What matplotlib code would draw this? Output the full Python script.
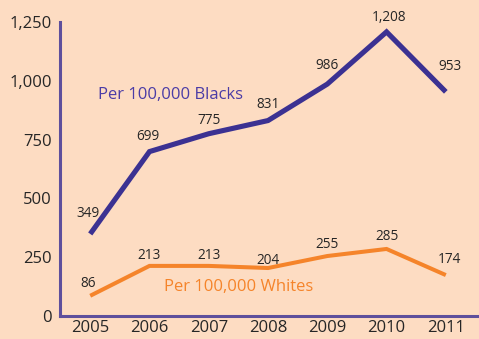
import matplotlib
matplotlib.use("Agg")
import matplotlib.pyplot as plt

years = [2005, 2006, 2007, 2008, 2009, 2010, 2011]
blacks = [349, 699, 775, 831, 986, 1208, 953]
whites = [86, 213, 213, 204, 255, 285, 174]
y_ticks = [0, 250, 500, 750, 1000, 1250]
y_tick_labels = ["0", "250", "500", "750", "1,000", "1,250"]

bg = "#FDDCC2"
blue = "#3B3192"
orange = "#F5842A"
axis_col = "#5E4F9C"
text_col = "#262626"

plt.rcParams["font.family"] = ["Open Sans", "DejaVu Sans"]

fig = plt.figure(figsize=(4.79, 3.39), dpi=100, facecolor=bg)
ax = fig.add_axes([60 / 479, 1 - 316 / 339, 419 / 479, 294 / 339])
ax.set_facecolor(bg)

ax.plot(years, blacks, color=blue, lw=3.7, solid_capstyle="butt", solid_joinstyle="miter")
ax.plot(years, whites, color=orange, lw=2.9, solid_capstyle="butt", solid_joinstyle="miter")

# label placement (x shift, height of label centre above the point), in pixels
black_shift = [(-2, 20), (-2, 15), (0, 13), (0, 16), (0, 19), (2, 14), (4, 25)]
white_shift = [(-2, 12), (0, 10), (0, 10), (0, 8), (0, 12), (0, 12), (4, 16)]
px = 0.72
for x, v, (dx, dy) in zip(years, blacks, black_shift):
    ax.annotate(f"{v:,}", (x, v), xytext=(dx * px, dy * px), textcoords="offset points",
                ha="center", va="center", fontsize=9.8, color=text_col)
for x, v, (dx, dy) in zip(years, whites, white_shift):
    ax.annotate(f"{v:,}", (x, v), xytext=(dx * px, dy * px), textcoords="offset points",
                ha="center", va="center", fontsize=9.8, color=text_col)

ax.text(2006.35, 940, "Per 100,000 Blacks", color="#4B3CA6", fontsize=12,
        ha="center", va="center")
ax.text(2007.51, 123, "Per 100,000 Whites", color=orange, fontsize=12,
        ha="center", va="center")

ax.set_xlim(2004.49, 2011.56)
ax.set_ylim(0, 1250)
ax.set_xticks(years)
ax.set_xticklabels([str(y) for y in years])
ax.set_yticks(y_ticks)
ax.set_yticklabels(y_tick_labels)
ax.tick_params(length=0, labelsize=12, colors=text_col, pad=6)
ax.tick_params(axis="x", pad=3)

for s in ["top", "right"]:
    ax.spines[s].set_visible(False)
for s in ["left", "bottom"]:
    ax.spines[s].set_color(axis_col)
    ax.spines[s].set_linewidth(2.2)

fig.savefig("out.png", dpi=100, facecolor=bg)
